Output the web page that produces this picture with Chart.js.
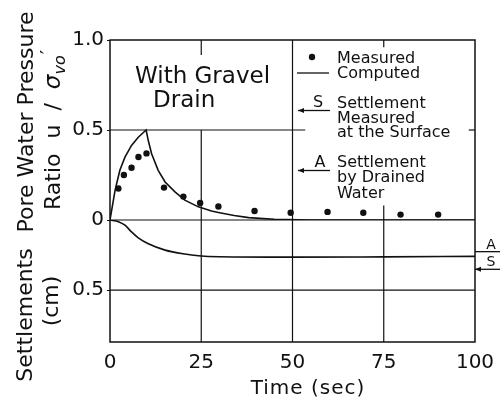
<!DOCTYPE html>
<html>
<head>
<meta charset="utf-8">
<script src="https://cdn.jsdelivr.net/npm/chart.js@4.4.1/dist/chart.umd.min.js"></script>
<style>
  html, body { margin: 0; padding: 0; background: #fff; }
</style>
</head>
<body>
<canvas id="drain" width="500" height="402"></canvas>
<script>
// measured pore water pressure ratio
const measuredTime = [2.3, 3.8, 5.9, 7.8, 10.0, 14.8, 20.1, 24.7, 29.7, 39.6, 49.5, 59.6, 69.4, 79.6, 89.9];
const measuredRatio = [0.175, 0.25, 0.29, 0.35, 0.37, 0.18, 0.13, 0.095, 0.075, 0.05, 0.04, 0.045, 0.04, 0.03, 0.03];

// computed pore water pressure ratio
const computedTime = [0, 1.4, 2.7, 4.1, 5.9, 7.75, 9.9, 10.5, 11.4, 13.2, 15.1, 17.8, 20.5, 24.2, 27.8, 29.7, 34, 38, 45, 55, 100];
const computedRatio = [0, 0.166, 0.276, 0.349, 0.414, 0.46, 0.5, 0.44, 0.368, 0.276, 0.211, 0.156, 0.11, 0.073, 0.05, 0.042, 0.025, 0.013, 0.004, 0, 0];

// computed settlement (cm)
const settleTime = [0, 2.3, 4.1, 5.9, 7.75, 10.5, 15.1, 20.5, 24.2, 30, 50, 75, 100];
const settleCm = [0, 0.012, 0.037, 0.085, 0.128, 0.17, 0.215, 0.243, 0.255, 0.262, 0.265, 0.263, 0.26];

// final settlements marked on the right edge
const markLabels = ['A', 'S'];
const markCm = [0.226, 0.352];

const timeTicks = [0, 25, 50, 75, 100];
const ratioTicks = [0, 0.5, 1.0];
const settleTicks = [0.5];

const ink = '#111';
const face = 'DejaVu Sans';

function pts(xs, ys) {
  return xs.map((x, i) => ({ x: x, y: ys[i] }));
}

function line(ctx, x1, y1, x2, y2) {
  ctx.beginPath();
  ctx.moveTo(x1, y1);
  ctx.lineTo(x2, y2);
  ctx.stroke();
}

function arrowLeft(ctx, x, y) {
  ctx.beginPath();
  ctx.moveTo(x, y);
  ctx.lineTo(x + 6, y - 2.5);
  ctx.lineTo(x + 6, y + 2.5);
  ctx.closePath();
  ctx.fill();
}

// frame and the broken grid lines
const gridPlugin = {
  id: 'grid',
  beforeDatasetsDraw(chart) {
    const ctx = chart.ctx, ca = chart.chartArea;
    const x = chart.scales.x, y = chart.scales.y, y2 = chart.scales.y2;
    ctx.save();
    ctx.strokeStyle = ink;
    ctx.lineWidth = 1.2;
    const x25 = x.getPixelForValue(25), x50 = x.getPixelForValue(50), x75 = x.getPixelForValue(75);
    line(ctx, x25, ca.top, x25, y.getPixelForValue(0.917));
    line(ctx, x25, y.getPixelForValue(0.5), x25, ca.bottom);
    line(ctx, x50, ca.top, x50, ca.bottom);
    line(ctx, x75, ca.top, x75, y.getPixelForValue(0.96));
    line(ctx, x75, y.getPixelForValue(0.08), x75, ca.bottom);
    line(ctx, ca.left, y.getPixelForValue(0.5), x.getPixelForValue(53.5), y.getPixelForValue(0.5));
    line(ctx, x.getPixelForValue(98.3), y.getPixelForValue(0.5), ca.right, y.getPixelForValue(0.5));
    line(ctx, ca.left, y.getPixelForValue(0), ca.right, y.getPixelForValue(0));
    line(ctx, ca.left, y2.getPixelForValue(0.5), ca.right, y2.getPixelForValue(0.5));
    ctx.lineWidth = 1.5;
    ctx.strokeRect(ca.left, ca.top, ca.right - ca.left, ca.bottom - ca.top);
    ctx.restore();
  }
};

// texts, legend and the A / S marks
const notesPlugin = {
  id: 'notes',
  afterDraw(chart) {
    const ctx = chart.ctx, ca = chart.chartArea;
    const y2 = chart.scales.y2;
    ctx.save();
    ctx.fillStyle = ink;
    ctx.strokeStyle = ink;
    ctx.lineWidth = 1.3;
    ctx.textBaseline = 'alphabetic';

    ctx.font = '23px "' + face + '"';
    ctx.fillText('With Gravel', 135, 83);
    ctx.fillText('Drain', 153, 107);

    // legend
    ctx.font = '16px "' + face + '"';
    ctx.beginPath();
    ctx.arc(312, 57, 3.2, 0, Math.PI * 2);
    ctx.fill();
    ctx.fillText('Measured', 337, 63);
    line(ctx, 297, 73, 329, 73);
    ctx.fillText('Computed', 337, 78);

    ctx.textAlign = 'center';
    ctx.fillText('S', 318, 107);
    ctx.fillText('A', 320, 167);
    ctx.textAlign = 'left';
    line(ctx, 298, 110.5, 330, 110.5);
    arrowLeft(ctx, 298, 110.5);
    ctx.fillText('Settlement', 337, 108);
    ctx.fillText('Measured', 337, 123);
    ctx.fillText('at the Surface', 337, 137);
    line(ctx, 298, 170.5, 330, 170.5);
    arrowLeft(ctx, 298, 170.5);
    ctx.fillText('Settlement', 337, 167);
    ctx.fillText('by Drained', 337, 182);
    ctx.fillText('Water', 337, 198);

    // marks outside the right border
    ctx.font = '14px "' + face + '"';
    ctx.textAlign = 'center';
    markLabels.forEach((lab, i) => {
      const yy = y2.getPixelForValue(markCm[i]);
      line(ctx, ca.right, yy, ca.right + 25, yy);
      if (lab === 'S') arrowLeft(ctx, ca.right, yy);
      ctx.fillText(lab, ca.right + 16, yy - 3);
    });

    // x axis title
    ctx.font = '20px "' + face + '"';
    ctx.letterSpacing = '1px';
    ctx.fillText('Time (sec)', 308, 394);
    ctx.letterSpacing = '0px';

    // y axis titles, rotated
    ctx.font = '22px "' + face + '"';
    const vtext = (txt, bx, cy) => {
      ctx.save();
      ctx.translate(bx, cy);
      ctx.rotate(-Math.PI / 2);
      ctx.textAlign = 'center';
      ctx.fillText(txt, 0, 0);
      ctx.restore();
    };
    vtext('Pore Water Pressure', 33, 122);
    vtext('Settlements', 32, 315);
    vtext('(cm)', 58, 301);

    // Ratio u / sigma_vo'
    ctx.save();
    ctx.translate(60, 210);
    ctx.rotate(-Math.PI / 2);
    ctx.textAlign = 'left';
    const parts = [
      { t: 'Ratio', f: '22px', dy: 0, gap: 0 },
      { t: 'u', f: '22px', dy: 0, gap: 15 },
      { t: '/', f: '22px', dy: 0, gap: 14 },
      { t: 'σ', f: 'italic 23px', dy: 0, gap: 14 },
      { t: 'vo', f: 'italic 16px', dy: 5, gap: 0 },
      { t: '′', f: '20px', dy: -6, gap: 1 }
    ];
    let px = 0;
    parts.forEach(p => {
      ctx.font = p.f + ' "' + face + '"';
      px += p.gap;
      ctx.fillText(p.t, px, p.dy);
      px += ctx.measureText(p.t).width;
    });
    ctx.restore();

    ctx.restore();
  }
};

const tickFont = { family: face, size: 20 };

new Chart(document.getElementById('drain'), {
  type: 'scatter',
  data: {
    datasets: [
      {
        label: 'Measured',
        data: pts(measuredTime, measuredRatio),
        yAxisID: 'y',
        showLine: false,
        pointRadius: 3.2,
        pointBorderWidth: 0,
        pointBackgroundColor: ink,
        borderColor: ink
      },
      {
        label: 'Computed',
        data: pts(computedTime, computedRatio),
        yAxisID: 'y',
        showLine: true,
        pointRadius: 0,
        borderColor: ink,
        borderWidth: 1.6,
        tension: 0
      },
      {
        label: 'Settlement',
        data: pts(settleTime, settleCm),
        yAxisID: 'y2',
        showLine: true,
        pointRadius: 0,
        borderColor: ink,
        borderWidth: 1.6,
        cubicInterpolationMode: 'monotone'
      }
    ]
  },
  options: {
    responsive: false,
    animation: false,
    layout: { padding: { top: 40, right: 25, left: 0, bottom: 0 } },
    plugins: {
      legend: { display: false },
      tooltip: { enabled: false }
    },
    scales: {
      x: {
        type: 'linear',
        min: 0,
        max: 100,
        afterBuildTicks: s => { s.ticks = timeTicks.map(v => ({ value: v })); },
        grid: { display: false },
        border: { display: false },
        ticks: { font: tickFont, color: ink, padding: 1, maxRotation: 0 },
        afterFit: s => { s.height = 60; }
      },
      // settlement axis (lower part of the stack)
      y2: {
        type: 'linear',
        position: 'left',
        stack: 'left',
        stackWeight: 122,
        min: 0,
        max: 0.871,
        reverse: true,
        afterBuildTicks: s => { s.ticks = settleTicks.map(v => ({ value: v })); },
        grid: { drawOnChartArea: false, drawTicks: true, tickLength: 3, color: ink },
        border: { display: false },
        ticks: { font: tickFont, color: ink, padding: 3, callback: v => v.toFixed(1) },
        afterFit: s => { s.width = 110; }
      },
      // pore pressure ratio axis (upper part)
      y: {
        type: 'linear',
        position: 'left',
        stack: 'left',
        stackWeight: 180,
        min: 0,
        max: 1,
        afterBuildTicks: s => { s.ticks = ratioTicks.map(v => ({ value: v })); },
        grid: { drawOnChartArea: false, drawTicks: true, tickLength: 3, color: ink },
        border: { display: false },
        ticks: {
          font: tickFont, color: ink, padding: 3,
          callback: v => (v === 0 ? '0' : v.toFixed(1))
        },
        afterFit: s => { s.width = 110; }
      }
    }
  },
  plugins: [gridPlugin, notesPlugin]
});
</script>
</body>
</html>
